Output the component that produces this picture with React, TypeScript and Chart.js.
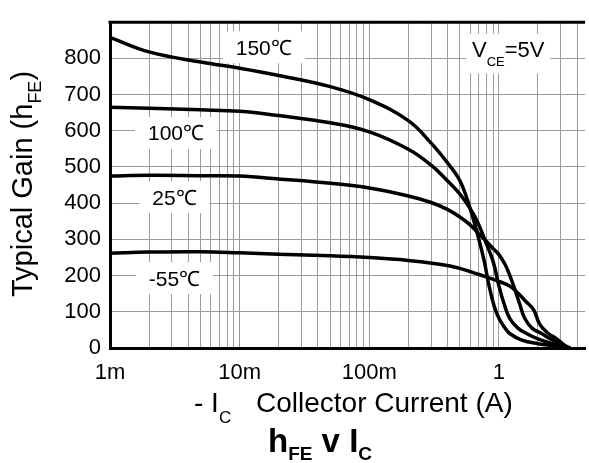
import React, { useEffect, useRef } from 'react';
import { Chart, registerables } from 'chart.js';

Chart.register(...registerables);

// ---- Data (collector current in A, gain hFE) ----
const current150 = [0.001, 0.002, 0.005, 0.01, 0.02, 0.05, 0.1, 0.2, 0.3, 0.4, 0.5, 0.6, 0.7, 0.77, 0.84, 0.92, 1.0, 1.1, 1.21, 1.5, 2.0, 2.8, 3.5];
const gain150 = [858, 818, 790, 773, 753, 722, 686, 628, 566, 512, 462, 385, 300, 240, 171, 115, 82, 58, 40, 22, 12, 5, 0];

const current100 = [0.001, 0.002, 0.005, 0.01, 0.02, 0.05, 0.1, 0.2, 0.3, 0.4, 0.5, 0.6, 0.68, 0.78, 0.9, 1.0, 1.1, 1.21, 1.4, 1.63, 2.0, 2.8, 3.5];
const gain100 = [665, 662, 658, 654, 642, 622, 597, 549, 505, 462, 425, 385, 350, 298, 240, 171, 120, 82, 55, 40, 25, 8, 0];

const current25 = [0.001, 0.002, 0.005, 0.01, 0.02, 0.05, 0.1, 0.2, 0.3, 0.4, 0.5, 0.6, 0.7, 0.81, 0.9, 1.0, 1.11, 1.2, 1.3, 1.45, 1.58, 1.8, 2.13, 2.5, 3.0, 3.5];
const gain25 = [475, 477, 476, 475, 467, 455, 442, 420, 402, 383, 362, 340, 315, 293, 275, 258, 232, 205, 171, 120, 82, 55, 40, 25, 10, 0];

const currentM55 = [0.001, 0.002, 0.005, 0.01, 0.02, 0.05, 0.1, 0.2, 0.335, 0.5, 0.7, 1.0, 1.21, 1.4, 1.6, 1.85, 2.06, 2.4, 2.77, 3.2, 3.5];
const gainM55 = [262, 265, 266, 263, 259, 255, 250, 242, 232, 220, 203, 184, 171, 152, 130, 106, 66, 40, 26, 8, 0];

const seriesCurrents = [current150, current100, current25, currentM55];
const seriesGains = [gain150, gain100, gain25, gainM55];

// curve labels (placed in data coordinates)
const curveLabels = ['150\u2103', '100\u2103', '25\u2103', '-55\u2103'];
const curveLabelX = [0.01535, 0.00323, 0.00314, 0.00314];
const curveLabelY = [831, 594, 417, 193];
const conditionX = 1.18;
const conditionY = 813;

// axes
const xMin = 0.001;
const xMax = 4.62;
const xTickValues = [0.001, 0.01, 0.1, 1];
const xTickLabels = ['1m', '10m', '100m', '1'];
const yMin = 0;
const yMax = 900;
const yGridStep = 50;
const yLabelStep = 100;

const FONT = '"Liberation Sans", Arial, Helvetica, sans-serif';

type Part = { t: string; s: number; dy: number; b?: boolean };

function drawRich(ctx: CanvasRenderingContext2D, parts: Part[], x: number, baseline: number, align: 'left' | 'center') {
  const widths = parts.map((p) => {
    ctx.font = `${p.b ? 'bold ' : ''}${p.s}px ${FONT}`;
    return ctx.measureText(p.t).width;
  });
  const total = widths.reduce((a, b) => a + b, 0);
  let cx = align === 'center' ? x - total / 2 : x;
  ctx.textAlign = 'left';
  ctx.textBaseline = 'alphabetic';
  parts.forEach((p, i) => {
    ctx.font = `${p.b ? 'bold ' : ''}${p.s}px ${FONT}`;
    ctx.fillText(p.t, cx, baseline + p.dy);
    cx += widths[i];
  });
  return total;
}

function minorTicks(): number[] {
  const out: number[] = [];
  for (let e = -3; e <= 0; e++) {
    for (let m = 1; m <= 9; m++) {
      const v = Number((m * Math.pow(10, e)).toPrecision(3));
      if (v >= xMin && v <= xMax) out.push(v);
    }
  }
  return out;
}

const decorPlugin = {
  id: 'decor',
  beforeDatasetsDraw(chart: any) {
    const { ctx, scales } = chart;
    const xs = scales.x;
    const ys = scales.y;
    ctx.save();
    curveLabels.forEach((t, i) => {
      const cx = xs.getPixelForValue(curveLabelX[i]);
      const cy = ys.getPixelForValue(curveLabelY[i]);
      ctx.font = `21px ${FONT}`;
      const w = ctx.measureText(t).width;
      ctx.fillStyle = '#ffffff';
      ctx.fillRect(cx - w / 2 - 13, cy - 16, w + 26, 32);
      ctx.fillStyle = '#000000';
      ctx.textAlign = 'center';
      ctx.textBaseline = 'alphabetic';
      ctx.fillText(t, cx, cy + 7.5);
    });
    // V_CE = 5V
    const cx = xs.getPixelForValue(conditionX);
    const cy = ys.getPixelForValue(conditionY);
    const parts: Part[] = [
      { t: 'V', s: 22, dy: 0 },
      { t: 'CE', s: 13, dy: 9 },
      { t: '=5V', s: 22, dy: 0 },
    ];
    ctx.fillStyle = '#ffffff';
    ctx.fillRect(cx - 42, cy - 20, 84, 40);
    ctx.fillStyle = '#000000';
    drawRich(ctx, parts, cx, cy + 3, 'center');
    ctx.restore();
  },
  afterDraw(chart: any) {
    const { ctx, chartArea } = chart;
    ctx.save();
    // top frame line
    ctx.strokeStyle = '#000000';
    ctx.lineWidth = 3;
    ctx.beginPath();
    ctx.moveTo(chartArea.left - 1.5, chartArea.top);
    ctx.lineTo(chartArea.right, chartArea.top);
    ctx.stroke();

    ctx.fillStyle = '#000000';
    // Y axis title
    ctx.save();
    ctx.translate(32, 184);
    ctx.rotate(-Math.PI / 2);
    drawRich(ctx, [
      { t: 'Typical Gain (h', s: 29, dy: 0 },
      { t: 'FE', s: 18, dy: 9 },
      { t: ')', s: 29, dy: 0 },
    ], 0, 0, 'center');
    ctx.restore();

    // X axis title
    drawRich(ctx, [
      { t: '- I', s: 28, dy: 0 },
      { t: 'C', s: 17, dy: 11 },
    ], 194, 412, 'left');
    drawRich(ctx, [{ t: 'Collector Current (A)', s: 28, dy: 0 }], 256, 412, 'left');

    // Chart title
    drawRich(ctx, [
      { t: 'h', s: 33, dy: 0, b: true },
      { t: 'FE', s: 19, dy: 8, b: true },
      { t: ' v I', s: 33, dy: 0, b: true },
      { t: 'C', s: 19, dy: 8, b: true },
    ], 268, 452, 'left');
    ctx.restore();
  },
};

export default function App() {
  const canvasRef = useRef<HTMLCanvasElement | null>(null);

  useEffect(() => {
    document.body.style.margin = '0';
    const canvas = canvasRef.current;
    if (!canvas) return;

    const datasets = seriesCurrents.map((xs, i) => ({
      label: curveLabels[i],
      data: xs.map((x, j) => ({ x, y: seriesGains[i][j] })),
      borderColor: '#000000',
      backgroundColor: '#000000',
      borderWidth: 3.5,
      pointRadius: 0,
      fill: false,
      tension: 0.4,
      borderCapStyle: 'round' as const,
      borderJoinStyle: 'round' as const,
    }));

    const chart = new Chart(canvas, {
      type: 'line',
      data: { datasets },
      plugins: [decorPlugin],
      options: {
        animation: false,
        responsive: false,
        devicePixelRatio: 1,
        layout: { padding: { top: 7, left: 0, right: 0, bottom: 0 } },
        plugins: { legend: { display: false }, tooltip: { enabled: false }, title: { display: false } },
        scales: {
          x: {
            type: 'logarithmic',
            min: xMin,
            max: xMax,
            afterBuildTicks: (scale: any) => {
              scale.ticks = minorTicks().map((v) => ({ value: v }));
            },
            afterFit: (scale: any) => {
              scale.height = 115;
            },
            grid: { color: '#9a9a9a', lineWidth: 1, drawTicks: false },
            border: { display: true, color: '#000000', width: 3 },
            ticks: {
              autoSkip: false,
              maxRotation: 0,
              minRotation: 0,
              padding: 12,
              color: '#000000',
              font: { family: FONT, size: 22 },
              callback: (v: any) => {
                const val = Number(v);
                const idx = xTickValues.findIndex((t) => Math.abs(Math.log10(t) - Math.log10(val)) < 1e-6);
                return idx >= 0 ? xTickLabels[idx] : '';
              },
            },
          },
          y: {
            type: 'linear',
            min: yMin,
            max: yMax,
            afterFit: (scale: any) => {
              scale.width = 110;
            },
            grid: { color: '#9a9a9a', lineWidth: 1, drawTicks: false },
            border: { display: true, color: '#000000', width: 3 },
            ticks: {
              stepSize: yGridStep,
              padding: 9,
              color: '#000000',
              font: { family: FONT, size: 22 },
              callback: (v: any) => {
                const val = Number(v);
                return val % yLabelStep === 0 && val < yMax ? String(val) : '';
              },
            },
          },
        },
      },
    });

    return () => chart.destroy();
  }, []);

  return (
    <div style={{ width: 589, height: 463 }}>
      <canvas ref={canvasRef} width={589} height={463} style={{ display: 'block' }} />
    </div>
  );
}
